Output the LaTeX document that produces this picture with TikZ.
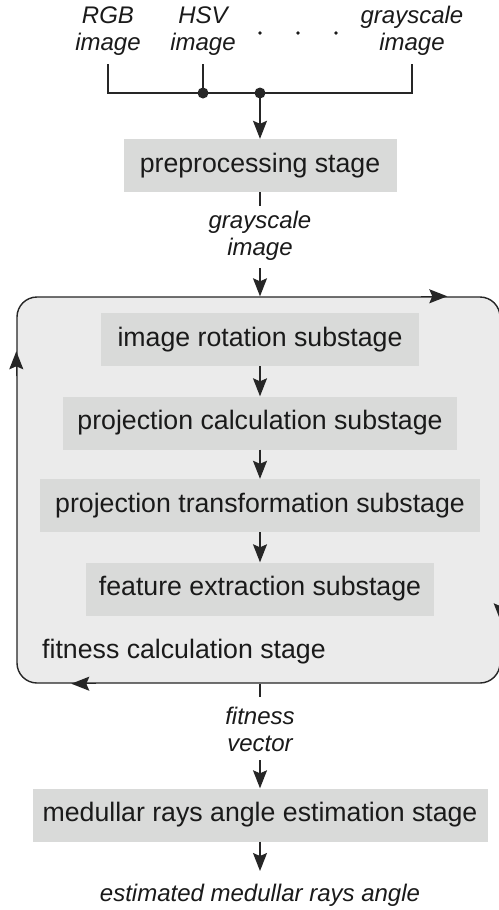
\documentclass[tikz,border=0pt]{standalone}
\usepackage{fontspec}
\setmainfont{Liberation Sans}
\usetikzlibrary{arrows.meta,calc}
\definecolor{boxgray}{HTML}{D9DAD9}
\definecolor{biggray}{HTML}{EBEBEB}
\definecolor{linec}{HTML}{262626}
\definecolor{textc}{HTML}{1A1A1A}
\begin{document}
\begin{tikzpicture}[x=1pt,y=-1pt,
  stagebox/.style={fill=boxgray, inner sep=0pt, minimum height=53pt, text=textc,
    font=\fontsize{26.7}{32}\selectfont},
  lbl/.style={font=\fontsize{24}{27}\selectfont\itshape, align=center, inner sep=0pt, text=textc},
  conn/.style={draw=linec, line width=1.4pt},
  arr/.style={conn, -{Stealth[length=18pt,width=14pt,inset=3pt]}},
  bigbox/.style={draw=linec, fill=biggray, line width=1.4pt, rounded corners=20pt,
    minimum width=483pt, minimum height=386pt, inner sep=0pt}]
\useasboundingbox (0,0) rectangle (498,910);
\fill[white] (0,0) rectangle (498,910);

% input labels
\node[lbl] (rgb) at (108,31) {RGB\\image};
\node[lbl] (hsv) at (203,31) {HSV\\image};
\node[lbl] (gray) at (412,31) {grayscale\\image};
\fill[textc] (260,33) circle (1.8pt);
\fill[textc] (298,33) circle (1.8pt);
\fill[textc] (336,33) circle (1.8pt);

\coordinate (rgbE) at (108,64);
\coordinate (hsvE) at (203,64);
\coordinate (grayE) at (412,64);
\coordinate (jR) at (108,93);
\coordinate (jH) at (203,93);
\coordinate (jM) at (260,93);
\coordinate (jG) at (412,93);

% preprocessing
\node[stagebox, minimum width=273pt] (pre) at (260,165.5) {preprocessing stage};

\draw[conn] (rgbE) -- (jR) -- (jG) -- (grayE);
\draw[conn] (hsvE) -- (jH);
\fill[linec] (jH) circle (5.5pt);
\fill[linec] (jM) circle (5.5pt);
\draw[arr] (jM) -- (pre.north);

% grayscale image label
\node[lbl] (gl) at (260,236) {grayscale\\image};
\coordinate (glTop) at (260,206);
\coordinate (glBot) at (260,268);
\draw[conn] (pre.south) -- (glTop);

% fitness calculation stage
\node[bigbox] (fit) at (258.5,490) {};
\draw[arr] (glBot) -- (glBot |- fit.north);
\draw[arr] ($(fit.north west)+(405,0)$) -- ($(fit.north west)+(431,0)$);
\draw[arr] ($(fit.north west)+(0,80)$) -- ($(fit.north west)+(0,55)$);
\draw[arr] ($(fit.south west)+(80,0)$) -- ($(fit.south west)+(55,0)$);
\draw[arr] ($(fit.north east)+(0,300)$) -- ($(fit.north east)+(0,325)$);

\node[stagebox, minimum width=318pt] (s1) at (260,339.5) {image rotation substage};
\node[stagebox, minimum width=394pt] (s2) at (260,423) {projection calculation substage};
\node[stagebox, minimum width=440pt] (s3) at (260,505.5) {projection transformation substage};
\node[stagebox, minimum width=348pt] (s4) at (260,589) {feature extraction substage};
\node[anchor=west, inner sep=0pt, text=textc, font=\fontsize{26.7}{32}\selectfont] (fcs) at (42,652) {fitness calculation stage};

\draw[arr] (s1.south) -- (s2.north);
\draw[arr] (s2.south) -- (s3.north);
\draw[arr] (s3.south) -- (s4.north);

% fitness vector
\coordinate (fvTop) at (260,697);
\coordinate (fvBot) at (260,760);
\draw[conn] (fvTop |- fit.south) -- (fvTop);
\node[lbl] (fv) at (260,729) {fitness\\vector};

\node[stagebox, minimum width=455pt] (med) at (260,815) {medullar rays angle estimation stage};
\draw[arr] (fvBot) -- (med.north);

\node[lbl] (est) at (260,895) {estimated medullar rays angle};
\coordinate (estTop) at (260,871);
\draw[arr] (med.south) -- (estTop);
\end{tikzpicture}
\end{document}
